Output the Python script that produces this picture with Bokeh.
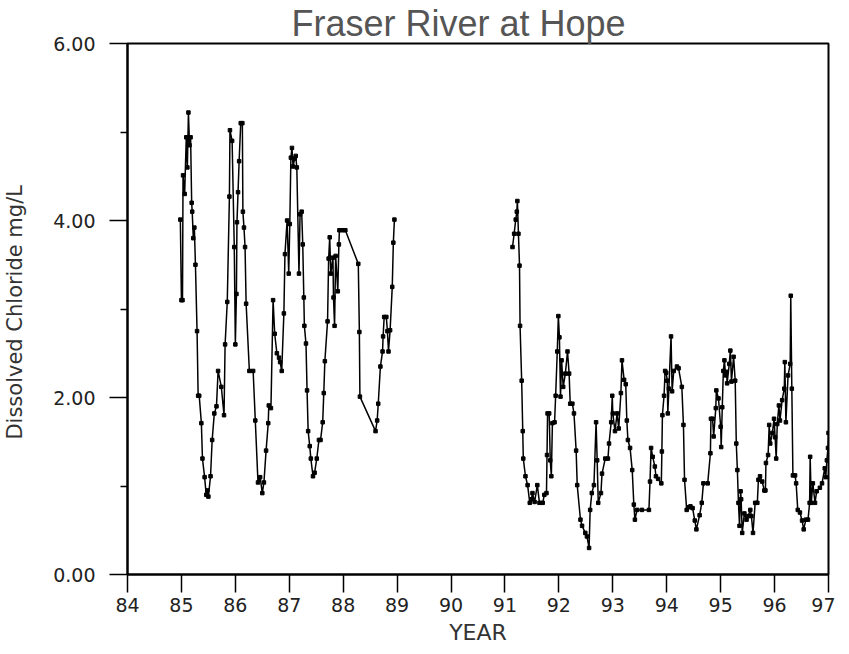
from bokeh.plotting import figure
from bokeh.models import FixedTicker, PrintfTickFormatter, ColumnDataSource
from bokeh.embed import file_html
from bokeh.resources import INLINE

# ---- data ----
x_ticks = [84, 85, 86, 87, 88, 89, 90, 91, 92, 93, 94, 95, 96, 97]
y_ticks = [0, 2, 4, 6]
y_minor = [1, 3, 5]

years_a = [84.98, 85.00, 85.02, 85.03, 85.06, 85.09, 85.11, 85.13, 85.15, 85.17,
           85.19, 85.20, 85.22, 85.24, 85.26, 85.29, 85.31, 85.33, 85.37, 85.39,
           85.43, 85.46, 85.48, 85.50, 85.54, 85.57, 85.61, 85.65, 85.68, 85.74,
           85.79, 85.81, 85.85, 85.89, 85.90, 85.94, 85.98, 86.00, 86.02, 86.03,
           86.05, 86.07, 86.10, 86.13, 86.14, 86.16, 86.18, 86.20, 86.26, 86.33,
           86.37, 86.42, 86.46, 86.50, 86.53, 86.57, 86.61, 86.62, 86.66, 86.70,
           86.73, 86.77, 86.81, 86.83, 86.86, 86.90, 86.92, 86.96, 86.99, 87.01,
           87.03, 87.05, 87.07, 87.10, 87.12, 87.14, 87.18, 87.20, 87.23, 87.25,
           87.27, 87.28, 87.31, 87.33, 87.35, 87.38, 87.40, 87.44, 87.47, 87.51,
           87.55, 87.58, 87.62, 87.64, 87.66, 87.71, 87.73, 87.75, 87.77, 87.81,
           87.82, 87.84, 87.86, 87.90, 87.92, 87.93, 87.99, 88.04, 88.28, 88.30,
           88.31, 88.60, 88.63, 88.65, 88.69, 88.73, 88.74, 88.76, 88.80, 88.82,
           88.84, 88.87, 88.91, 88.93, 88.95]
chloride_a = [4.01, 3.10, 3.10, 4.51, 4.30, 4.94, 4.60, 5.22, 4.85, 4.94,
              4.20, 4.10, 3.80, 3.92, 3.50, 2.75, 2.02, 2.02, 1.71, 1.31,
              1.10, 0.90, 0.95, 0.88, 1.11, 1.52, 1.82, 1.90, 2.30, 2.12,
              1.80, 2.60, 3.08, 4.27, 5.02, 4.90, 3.70, 2.60, 3.17, 3.98,
              4.32, 4.67, 5.10, 5.10, 4.10, 3.92, 3.70, 3.06, 2.30, 2.30,
              1.74, 1.04, 1.10, 0.92, 1.04, 1.40, 1.71, 1.91, 1.88, 3.10,
              2.72, 2.50, 2.45, 2.40, 2.30, 2.95, 3.62, 4.00, 3.40, 3.96,
              4.71, 4.82, 4.61, 4.70, 4.73, 4.60, 3.40, 4.07, 4.10, 3.73,
              3.13, 2.81, 2.61, 2.08, 1.62, 1.45, 1.31, 1.11, 1.15, 1.31,
              1.52, 1.52, 1.72, 2.05, 2.41, 2.86, 3.57, 3.81, 3.40, 3.58,
              3.13, 2.81, 3.60, 3.20, 3.73, 3.89, 3.89, 3.89, 3.51, 2.74,
              2.01, 1.62, 1.74, 1.93, 2.35, 2.52, 2.69, 2.91, 2.91, 2.75,
              2.52, 2.76, 3.25, 3.75, 4.01]

years_b = [91.14, 91.17, 91.20, 91.22, 91.23, 91.25, 91.27, 91.28, 91.31, 91.33,
           91.34, 91.38, 91.42, 91.46, 91.49, 91.51, 91.55, 91.60, 91.64, 91.70,
           91.73, 91.77, 91.78, 91.79, 91.82, 91.84, 91.86, 91.88, 91.92, 91.94,
           91.97, 91.99, 92.01, 92.03, 92.05, 92.08, 92.12, 92.16, 92.19, 92.21,
           92.25, 92.28, 92.32, 92.34, 92.40, 92.43, 92.49, 92.52, 92.56, 92.58,
           92.61, 92.65, 92.69, 92.71, 92.73, 92.78, 92.80, 92.86, 92.91, 92.93,
           92.97, 92.99, 93.00, 93.04, 93.08, 93.11, 93.15, 93.17, 93.21, 93.24,
           93.26, 93.28, 93.32, 93.36, 93.39, 93.41, 93.45, 93.54, 93.67, 93.69,
           93.71, 93.74, 93.78, 93.80, 93.84, 93.90, 93.91, 93.92, 93.95, 93.97,
           93.99, 94.01, 94.02, 94.04, 94.08, 94.10, 94.13, 94.19, 94.22, 94.28,
           94.31, 94.33, 94.37, 94.41, 94.44, 94.48, 94.52, 94.55, 94.61, 94.65,
           94.68, 94.76, 94.81, 94.82, 94.85, 94.87, 94.91, 94.92, 94.96, 95.00,
           95.01, 95.03, 95.05, 95.07, 95.09, 95.11, 95.12, 95.16, 95.18, 95.20,
           95.24, 95.27, 95.29, 95.31, 95.33, 95.35, 95.37, 95.38, 95.40, 95.44,
           95.48, 95.51, 95.55, 95.57, 95.60, 95.64, 95.68, 95.70, 95.73, 95.77,
           95.81, 95.83, 95.84, 95.88, 95.90, 95.92, 95.96, 95.99, 96.01, 96.03,
           96.05, 96.08, 96.10, 96.14, 96.18, 96.19, 96.21, 96.25, 96.29, 96.30,
           96.32, 96.34, 96.38, 96.40, 96.43, 96.47, 96.51, 96.54, 96.58, 96.62,
           96.65, 96.66, 96.68, 96.71, 96.75, 96.78, 96.84, 96.88, 96.93, 96.95,
           96.97, 96.99, 97.00]
chloride_b = [3.70, 3.85, 4.01, 4.10, 4.22, 3.85, 3.49, 2.81, 2.19, 1.62,
              1.31, 1.11, 1.01, 0.81, 0.85, 0.92, 0.82, 1.01, 0.81, 0.81,
              0.90, 0.92, 1.35, 1.82, 1.82, 1.29, 1.11, 1.71, 1.72, 2.02,
              2.52, 2.92, 2.68, 2.01, 2.42, 2.12, 2.27, 2.52, 2.27, 1.93,
              1.93, 1.82, 1.40, 1.01, 0.62, 0.55, 0.47, 0.43, 0.30, 0.73,
              0.92, 1.01, 1.72, 1.29, 0.81, 0.92, 1.14, 1.31, 1.31, 1.48,
              1.72, 2.02, 1.82, 1.62, 1.82, 1.65, 2.05, 2.42, 2.20, 2.15,
              1.74, 1.52, 1.43, 1.18, 0.79, 0.62, 0.73, 0.73, 0.73, 1.05,
              1.43, 1.33, 1.22, 1.11, 1.08, 1.03, 1.39, 1.80, 2.02, 2.30,
              2.28, 2.19, 1.82, 2.10, 2.69, 2.07, 2.30, 2.35, 2.33, 2.12,
              1.69, 1.07, 0.73, 0.76, 0.77, 0.75, 0.61, 0.51, 0.67, 0.81,
              1.03, 1.03, 1.37, 1.76, 1.76, 1.56, 1.88, 2.08, 1.99, 1.67,
              1.44, 1.89, 2.30, 2.42, 2.25, 2.29, 2.16, 2.38, 2.53, 2.18,
              2.46, 2.19, 1.48, 1.18, 0.81, 0.55, 0.94, 0.85, 0.47, 0.69,
              0.62, 0.66, 0.73, 0.66, 0.47, 0.81, 0.81, 1.07, 1.11, 1.05,
              0.95, 0.95, 1.26, 1.35, 1.69, 1.48, 1.60, 1.76, 1.55, 1.31,
              1.70, 1.91, 1.74, 1.97, 2.10, 2.40, 1.72, 2.25, 2.38, 3.15,
              2.10, 1.12, 1.12, 1.03, 0.73, 0.70, 0.61, 0.51, 0.62, 0.62,
              0.81, 1.33, 0.81, 1.03, 0.81, 0.94, 0.98, 1.03, 1.20, 1.10,
              1.29, 1.43, 1.60]

TITLE_FONT = "Liberation Sans"
FONT = "DejaVu Sans"

p = figure(width=835, height=650, x_range=(84, 97), y_range=(0, 6),
           output_backend="svg", toolbar_location=None,
           min_border_left=123, min_border_right=7,
           min_border_top=41, min_border_bottom=76)

p.title.text = "Fraser River at Hope"
p.title.align = "left"
p.title.offset = 164
p.title.standoff = 0
p.title.text_font = TITLE_FONT
p.title.text_font_size = "36px"
p.title.text_font_style = "normal"
p.title.text_color = "#555555"

p.grid.visible = False
p.outline_line_color = "black"
p.outline_line_width = 2
p.outline_line_alpha = 1

xa = p.xaxis[0]
xa.ticker = FixedTicker(ticks=x_ticks, minor_ticks=[])
xa.axis_label = "YEAR"
ya = p.yaxis[0]
ya.ticker = FixedTicker(ticks=y_ticks, minor_ticks=y_minor)
ya.formatter = PrintfTickFormatter(format="%.2f")
ya.axis_label = "Dissolved Chloride  mg/L"

for ax in (xa, ya):
    ax.axis_line_width = 2
    ax.axis_line_color = "black"
    ax.major_tick_line_color = "black"
    ax.major_tick_line_width = 1.5
    ax.minor_tick_line_color = "black"
    ax.minor_tick_line_width = 1.5
    ax.major_tick_in = 0
    ax.major_tick_out = 18
    ax.minor_tick_in = 0
    ax.minor_tick_out = 7
    ax.major_label_text_font = FONT
    ax.major_label_text_font_size = "19px"
    ax.major_label_text_color = "#222222"
    ax.axis_label_text_font = FONT
    ax.axis_label_text_font_style = "normal"
    ax.axis_label_text_color = "#333333"

xa.axis_label_text_font_size = "22px"
ya.axis_label_text_font_size = "21px"
xa.major_label_standoff = 5
xa.axis_label_standoff = 5
ya.major_label_standoff = 14
ya.axis_label_standoff = 23

src_a = ColumnDataSource(dict(x=years_a, y=chloride_a))
src_b = ColumnDataSource(dict(x=years_b, y=chloride_b))
for src in (src_a, src_b):
    p.line("x", "y", source=src, line_color="black", line_width=1.5)
    p.scatter("x", "y", source=src, marker="square", size=3.5,
              fill_color="black", line_color="black")

open("out.html", "w").write(file_html(p, INLINE))
